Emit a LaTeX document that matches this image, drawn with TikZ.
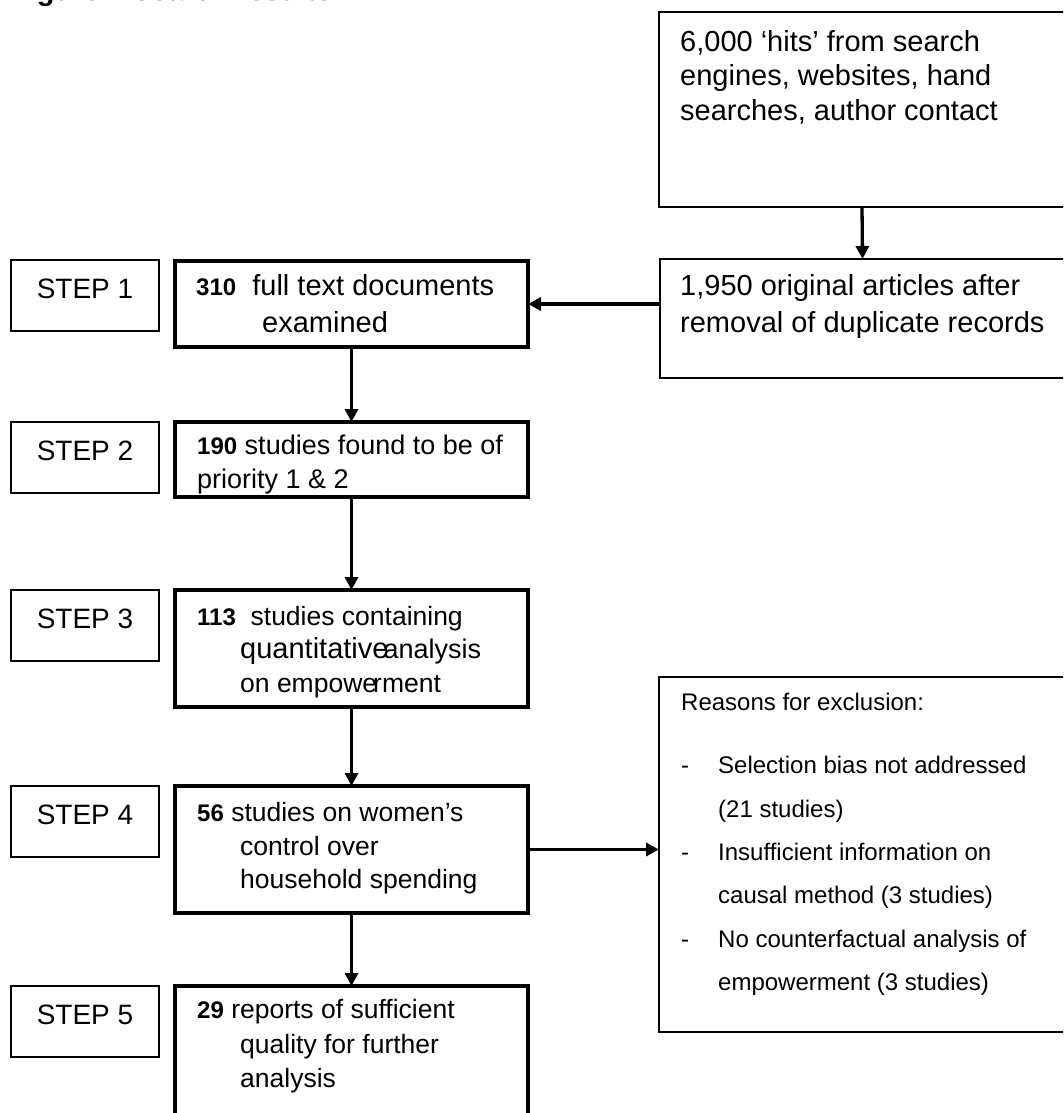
\documentclass[tikz,border=0pt]{standalone}
\usepackage{fontspec}
\setmainfont{Liberation Sans}
\usetikzlibrary{arrows.meta}
\newcommand{\bnum}[1]{{\fontsize{24}{28}\selectfont\bfseries #1}}
\begin{document}
\begin{tikzpicture}[x=1pt,y=-1pt,
  thickbox/.style={draw, line width=3.5pt, rectangle, inner sep=0pt, outer sep=0pt, anchor=north west},
  stepbox/.style={draw, line width=1.7pt, rectangle, inner sep=0pt, outer sep=0pt, anchor=north west, minimum width=148pt, minimum height=71pt},
  thinbox/.style={draw, line width=1.3pt, rectangle, inner sep=0pt, outer sep=0pt, anchor=north west},
  arr/.style={line width=3.3pt, -{Triangle[width=13pt,length=13pt]}},
  txt/.style={anchor=base west, inner sep=0pt, font=\fontsize{29}{34}\selectfont},
  txtm/.style={anchor=base west, inner sep=0pt, font=\fontsize{27}{32}\selectfont},
  txtb/.style={anchor=base west, inner sep=0pt, font=\fontsize{26.5}{32}\selectfont},
  steptxt/.style={anchor=base, inner sep=0pt, font=\fontsize{28}{33}\selectfont},
  small/.style={anchor=base west, inner sep=0pt, font=\fontsize{24}{28}\selectfont},
]
\useasboundingbox (0,0) rectangle (1063,1113);
\clip (0,0) rectangle (1063,1113);
\fill[white] (0,0) rectangle (1063,1113);

% title (cut off at top)
\node[anchor=base west, inner sep=0pt, font=\fontsize{29}{34}\selectfont\bfseries] (title) at (11,1) {Figure 1 Search results};

% right-hand boxes
\node[thinbox, minimum width=406pt, minimum height=195pt] (hits) at (659,12) {};
\node[thinbox, minimum width=405pt, minimum height=119pt] (b1950) at (660,259) {};
\node[thinbox, minimum width=406pt, minimum height=355pt] (excl) at (659,677) {};

% step boxes
\node[stepbox] (s1) at (11,260) {};
\node[stepbox] (s2) at (11,422) {};
\node[stepbox] (s3) at (11,590) {};
\node[stepbox] (s4) at (11,786) {};
\node[stepbox] (s5) at (11,986) {};

% main boxes
\node[thickbox, minimum width=353pt, minimum height=86pt] (b310) at (175,261) {};
\node[thickbox, minimum width=353pt, minimum height=75pt] (b190) at (175,422) {};
\node[thickbox, minimum width=353pt, minimum height=117pt] (b113) at (175,590) {};
\node[thickbox, minimum width=353pt, minimum height=127pt] (b56) at (175,786) {};
\node[thickbox, minimum width=353pt, minimum height=200pt] (b29) at (175,986) {};

% connectors
\draw[arr] (hits.south) -- (b1950.north);
\draw[arr] (b1950.west |- b310.east) -- (b310.east);
\draw[arr] (b310.south) -- (b190.north);
\draw[arr] (b190.south) -- (b113.north);
\draw[arr] (b113.south) -- (b56.north);
\draw[arr] (b56.south) -- (b29.north);
\draw[arr] (b56.east) -- (b56.east -| excl.west);

% texts: right boxes
\node[txt] (h1) at (680,52) {6,000 ‘hits’ from search};
\node[txt] (h2) at (680,86) {engines, websites, hand};
\node[txt] (h3) at (680,121) {searches, author contact};
\node[txt] (o1) at (680,295) {1,950 original articles after};
\node[txt] (o2) at (680,332) {removal of duplicate records};

% step labels
\node[steptxt] (st1) at (85,298) {STEP 1};
\node[steptxt] (st2) at (85,460) {STEP 2};
\node[steptxt] (st3) at (85,628) {STEP 3};
\node[steptxt] (st4) at (85,824) {STEP 4};
\node[steptxt] (st5) at (85,1024) {STEP 5};

% main box texts
\node[txt] (a1) at (196,295) {\bnum{310}\ \ full text documents};
\node[txt] (a2) at (262,332) {examined};
\node[txtm] (c1) at (197,454) {\bnum{190} studies found to be of};
\node[txtm] (c2) at (197,488) {priority 1 \& 2};
\node[txtb] (d1) at (197,625) {\bnum{113}\ \ studies containing};
\node[txt] (d2) at (240,658) {quantitative\kern-5pt{\fontsize{27}{32}\selectfont analysis}};
\node[txtb] (d3) at (240,692) {on empowe\kern-4pt rment};
\node[txtb] (e1) at (197,821) {\bnum{56} studies on women’s};
\node[txtb] (e2) at (240,855) {control over};
\node[txtb] (e3) at (240,888) {household spending};
\node[txtb] (f1) at (197,1018) {\bnum{29} reports of sufficient};
\node[txtb] (f2) at (240,1053) {quality for further};
\node[txtb] (f3) at (240,1087) {analysis};

% exclusion texts
\node[small] (x0) at (681,710) {Reasons for exclusion:};
\node[small] (xd1) at (681,773) {-};
\node[small] (xd2) at (681,860) {-};
\node[small] (xd3) at (681,947) {-};
\node[small] (x1) at (718,773) {Selection bias not addressed};
\node[small] (x2) at (718,817) {(21 studies)};
\node[small] (x3) at (718,860) {Insufficient information on};
\node[small] (x4) at (718,903) {causal method (3 studies)};
\node[small] (x5) at (718,947) {No counterfactual analysis of};
\node[small] (x6) at (718,990) {empowerment (3 studies)};
\end{tikzpicture}
\end{document}
